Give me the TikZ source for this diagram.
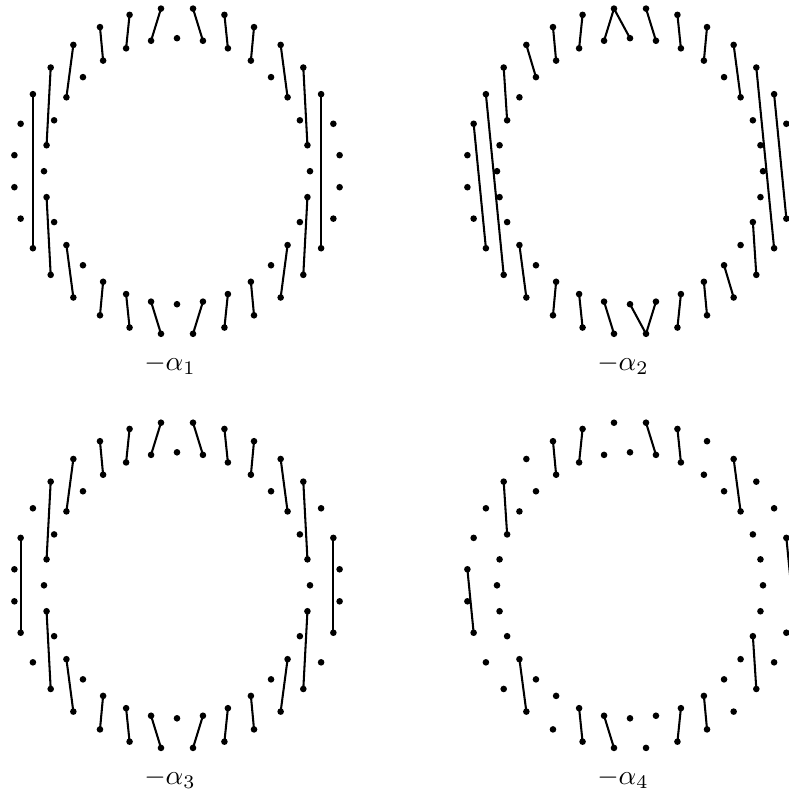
\documentclass[tikz,border=0pt]{standalone}
\begin{document}
\begin{tikzpicture}[x=0.3636pt,y=-0.3636pt,
  dot/.style={circle,fill=black,inner sep=0pt,minimum size=2.4pt},
  chord/.style={line width=0.75pt,black},
  lab/.style={anchor=base,inner sep=0pt}]
\useasboundingbox (0,0) rectangle (788,794);
% points: outer ring o0..o31 at 5.625+11.25j, inner ring i0..i31 at 11.25k
\foreach \pn/\cx/\cy in {1/177/171.2, 2/630/171.2, 3/177/585.3, 4/630/585.3}{
  \foreach \j in {0,...,31}{
    \node[dot] (p\pn o\j) at ({\cx+163.4*cos(5.625+11.25*\j)},{\cy-163.4*sin(5.625+11.25*\j)}) {};
    \node[dot] (p\pn i\j) at ({\cx+133*cos(11.25*\j)},{\cy-133*sin(11.25*\j)}) {};
  }
}
% panel 1
\foreach \a/\b in {o8/i9,o7/i7,o9/i10,o6/i6,o10/i11,o5/i5,o11/i13,o4/i3,o12/i15,o3/i1,
  o13/o18,o2/o29,i17/o19,i31/o28,i19/o20,i29/o27,i21/o21,i27/o26,i22/o22,i26/o25,i23/o23,i25/o24}
  \draw[chord] (p1\a.center) -- (p1\b.center);
% panel 2
\foreach \a/\b in {o8/i8,o8/i9,o7/i7,o9/i10,o6/i6,o10/i11,o5/i5,o11/i12,o4/i3,o12/i14,
  o3/o29,o2/o30,o13/o19,o14/o18,i19/o20,i21/o21,i22/o22,i23/o23,i24/o24,i25/o24,i26/o25,
  i27/o26,i28/o27,i30/o28}
  \draw[chord] (p2\a.center) -- (p2\b.center);
% panel 3
\foreach \a/\b in {o8/i9,o7/i7,o9/i10,o6/i6,o10/i11,o5/i5,o11/i13,o4/i3,o12/i15,o3/i1,
  o14/o17,o1/o30,i17/o19,i31/o28,i19/o20,i29/o27,i21/o21,i27/o26,i22/o22,i26/o25,i23/o23,i25/o24}
  \draw[chord] (p3\a.center) -- (p3\b.center);
% panel 4
\foreach \a/\b in {o7/i7,o9/i10,o6/i6,o10/i11,o4/i3,o12/i14,o15/o17,o1/o31,
  i19/o20,i22/o22,i23/o23,i26/o25,i27/o26,i30/o28}
  \draw[chord] (p4\a.center) -- (p4\b.center);
% labels
\node[lab] (l1) at (170,370.5) {$-\alpha_1$};
\node[lab] (l2) at (623,370.5) {$-\alpha_2$};
\node[lab] (l3) at (170,784.8) {$-\alpha_3$};
\node[lab] (l4) at (623,784.8) {$-\alpha_4$};
\end{tikzpicture}
\end{document}
